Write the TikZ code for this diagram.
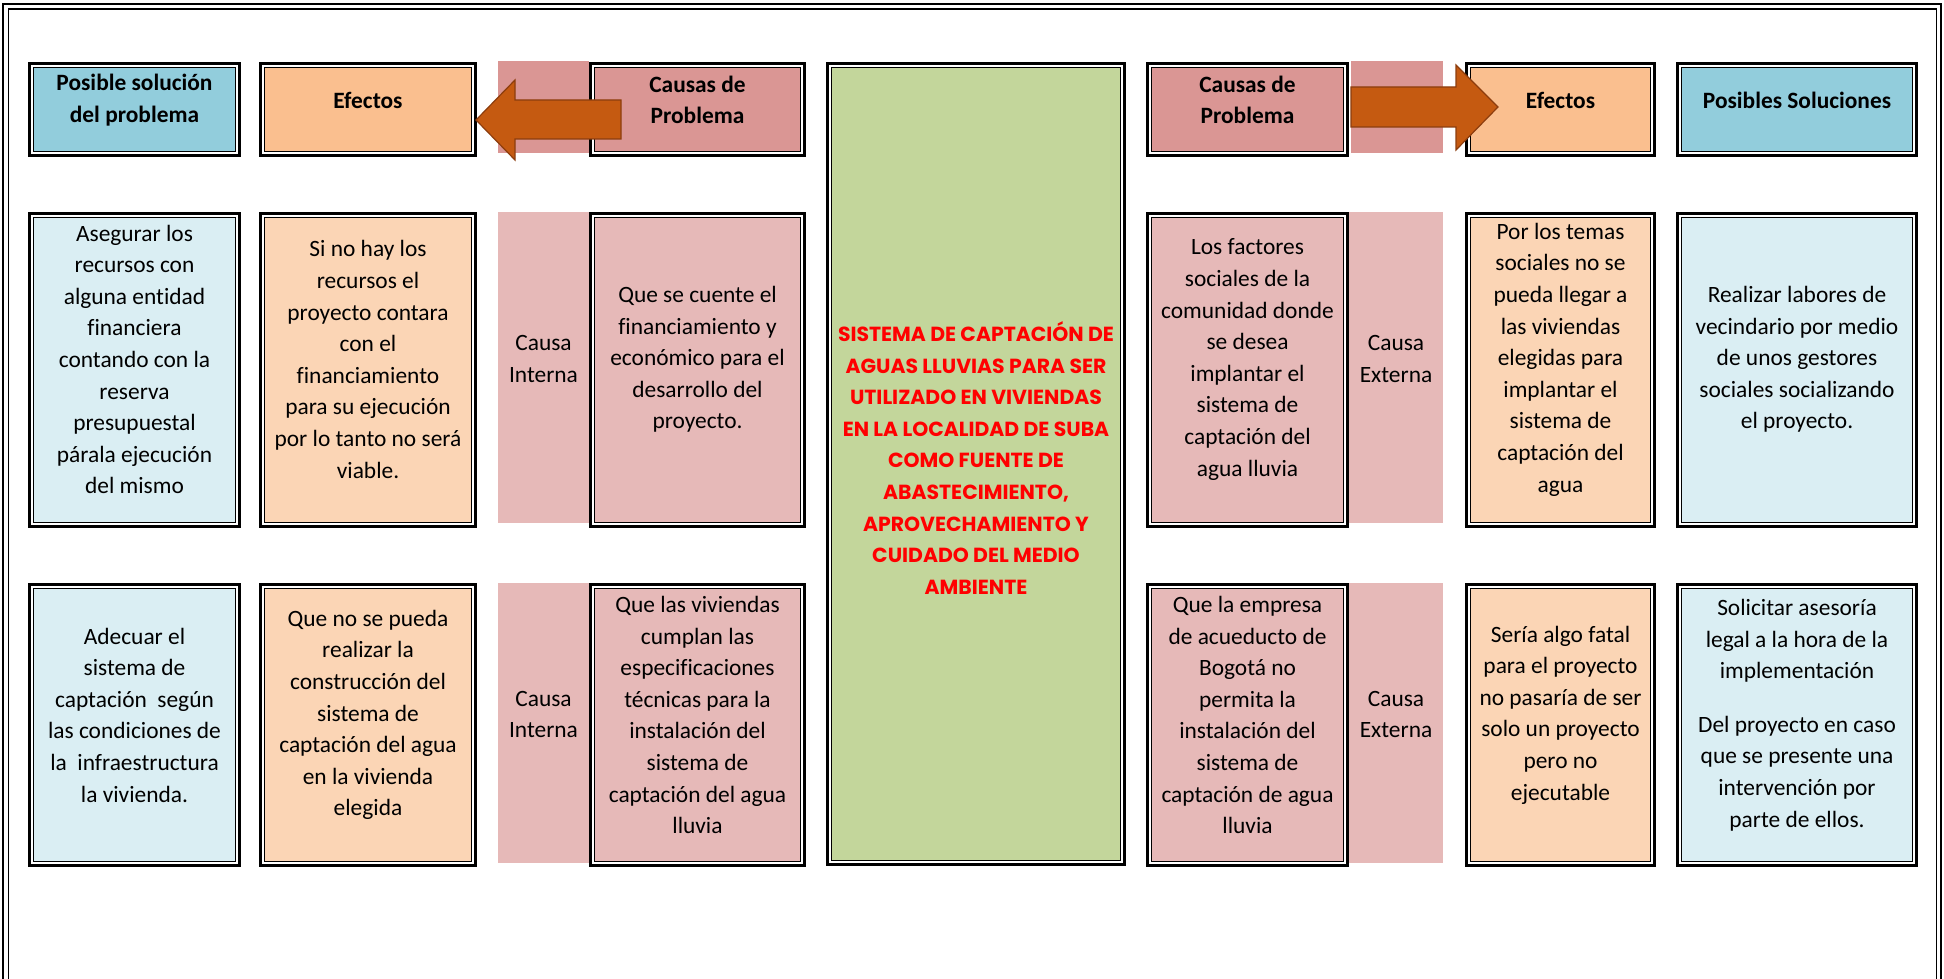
\documentclass[tikz,border=0pt]{standalone}
\usepackage{fontspec}
\setmainfont{Carlito}[Ligatures=NoCommon]
\newfontfamily\gothic{Poppins}
\definecolor{hblue}{HTML}{92CDDC}
\definecolor{bblue}{HTML}{DAEEF3}
\definecolor{horange}{HTML}{FABF8F}
\definecolor{borange}{HTML}{FBD5B5}
\definecolor{hpink}{HTML}{DA9694}
\definecolor{bpink}{HTML}{E6B9B8}
\definecolor{cgreen}{HTML}{C3D69B}
\definecolor{arrfill}{HTML}{C55A11}
\definecolor{arrline}{HTML}{8C3D0E}
\newcommand\dbox[6]{%
  \draw[outerln] (#2+1.35,#3+1.35) rectangle (#4-1.35,#5-1.35);
  \node[innerbox, fill=#6, minimum width={(#4-#2-11.1)*0.5pt}, minimum height={(#5-#3-11.1)*0.5pt}] (#1) at ({(#2+#4)/2},{(#3+#5)/2}) {};
}
\newcommand\strip[6]{%
  \node[inner sep=0pt, fill=#6, minimum width={(#4-#2)*0.5pt}, minimum height={(#5-#3)*0.5pt}] (#1) at ({(#2+#4)/2},{(#3+#5)/2}) {};
}
\begin{document}
\begin{tikzpicture}[x=0.5pt,y=-0.5pt,
  outerln/.style={line width=1.35pt},
  innerbox/.style={draw, line width=0.85pt, inner sep=0pt},
  txt/.style={align=center, font=\fontsize{11.7}{15.8}\selectfont, inner sep=0pt},
  hdr/.style={align=center, font=\fontsize{11.7}{15.8}\selectfont\bfseries, inner sep=0pt},
  ctr/.style={align=center, text=red, font=\gothic\bfseries\fontsize{10.2}{15.8}\selectfont, inner sep=0pt},
  blockarrow/.style={fill=arrfill, draw=arrline, line width=0.6pt, line join=miter}]
\useasboundingbox (0,0) rectangle (1944,979);
% frame
\draw[line width=0.9pt] (3,979) -- (3,4) -- (1941,4) -- (1941,979);
\draw[line width=0.8pt] (8.5,979) -- (8.5,9) -- (1936.5,9) -- (1936.5,979);

% header row
\dbox{h1}{28}{62}{241}{157}{hblue}
\dbox{h2}{259}{62}{477}{157}{horange}
\strip{hpL}{498}{61}{589}{153}{hpink}
\dbox{h3}{589}{62}{806}{157}{hpink}
\dbox{c}{826}{62}{1126}{866}{cgreen}
\dbox{h4}{1146}{62}{1349}{157}{hpink}
\strip{hpR}{1351}{61}{1443}{153}{hpink}
\dbox{h5}{1465}{62}{1656}{157}{horange}
\dbox{h6}{1676}{62}{1918}{157}{hblue}

\node[hdr] (h1t) at ([yshift=4.75pt]h1.center) {Posible solución\\del problema};
\node[hdr] (h2t) at ([yshift=4.75pt]h2.center) {Efectos};
\node[hdr] (h3t) at ([yshift=4.75pt]h3.center) {Causas de\\Problema};
\node[hdr] (h4t) at ([yshift=4.75pt]h4.center) {Causas de\\Problema};
\node[hdr] (h5t) at ([yshift=4.75pt]h5.center) {Efectos};
\node[hdr] (h6t) at ([yshift=4.75pt]h6.center) {Posibles Soluciones};

% block arrows
\draw[blockarrow] (476,120) -- (515,80) -- (515,100) -- (621,100) -- (621,139) -- (515,139) -- (515,160) -- cycle;
\draw[blockarrow] (1351,87) -- (1456,87) -- (1456,65) -- (1498,107) -- (1456,150) -- (1456,127) -- (1351,127) -- cycle;

% row 1
\dbox{a1}{28}{212}{241}{528}{bblue}
\dbox{a2}{259}{212}{477}{528}{borange}
\strip{sL1}{498}{212}{589}{523}{bpink}
\dbox{a3}{589}{212}{806}{528}{bpink}
\dbox{a4}{1146}{212}{1349}{528}{bpink}
\strip{sR1}{1349}{212}{1443}{523}{bpink}
\dbox{a5}{1465}{212}{1656}{528}{borange}
\dbox{a6}{1676}{212}{1918}{528}{bblue}

\node[txt] (a1t) at ([yshift=5.25pt]a1.center) {Asegurar los\\recursos con\\alguna entidad\\financiera\\contando con la\\reserva\\presupuestal\\párala ejecución\\del mismo};
\node[txt] (a2t) at ([yshift=5.25pt]a2.center) {Si no hay los\\recursos el\\proyecto contara\\con el\\financiamiento\\para su ejecución\\por lo tanto no será\\viable.};
\node[txt] (sL1t) at ([yshift=4.25pt]sL1.center) {Causa\\Interna};
\node[txt] (a3t) at ([yshift=5.25pt]a3.center) {Que se cuente el\\financiamiento y\\económico para el\\desarrollo del\\proyecto.};
\node[txt] (a4t) at ([yshift=5.25pt]a4.center) {Los factores\\sociales de la\\comunidad donde\\se desea\\implantar el\\sistema de\\captación del\\agua lluvia};
\node[txt] (sR1t) at ([yshift=4.25pt]sR1.center) {Causa\\Externa};
\node[txt] (a5t) at ([yshift=5.25pt]a5.center) {Por los temas\\sociales no se\\pueda llegar a\\las viviendas\\elegidas para\\implantar el\\sistema de\\captación del\\agua};
\node[txt] (a6t) at ([yshift=5.25pt]a6.center) {Realizar labores de\\vecindario por medio\\de unos gestores\\sociales socializando\\el proyecto.};

% row 2
\dbox{b1}{28}{583}{241}{867}{bblue}
\dbox{b2}{259}{583}{477}{867}{borange}
\strip{sL2}{498}{583}{589}{863}{bpink}
\dbox{b3}{589}{583}{806}{867}{bpink}
\dbox{b4}{1146}{583}{1349}{867}{bpink}
\strip{sR2}{1349}{583}{1443}{863}{bpink}
\dbox{b5}{1465}{583}{1656}{867}{borange}
\dbox{b6}{1676}{583}{1918}{867}{bblue}

\node[txt] (b1t) at ([yshift=5pt]b1.center) {Adecuar el\\sistema de\\captación\ \ según\\las condiciones de\\la\ \ infraestructura\\la vivienda.};
\node[txt] (b2t) at ([yshift=5pt]b2.center) {Que no se pueda\\realizar la\\construcción del\\sistema de\\captación del agua\\en la vivienda\\elegida};
\node[txt] (sL2t) at ([yshift=4.25pt]sL2.center) {Causa\\Interna};
\node[txt] (b3t) at ([yshift=5pt]b3.center) {Que las viviendas\\cumplan las\\especificaciones\\técnicas para la\\instalación del\\sistema de\\captación del agua\\lluvia};
\node[txt] (b4t) at ([yshift=5pt]b4.center) {Que la empresa\\de acueducto de\\Bogotá no\\permita la\\instalación del\\sistema de\\captación de agua\\lluvia};
\node[txt] (sR2t) at ([yshift=4.25pt]sR2.center) {Causa\\Externa};
\node[txt] (b5t) at ([yshift=5pt]b5.center) {Sería algo fatal\\para el proyecto\\no pasaría de ser\\solo un proyecto\\pero no\\ejecutable};
\node[txt] (b6t) at ([yshift=5pt]b6.center) {Solicitar asesoría\\legal a la hora de la\\implementación\\[11pt]Del proyecto en caso\\que se presente una\\intervención por\\parte de ellos.};

% centre
\node[ctr] (ct) at ([yshift=3pt]c.center) {SISTEMA DE CAPTACIÓN DE\\AGUAS LLUVIAS PARA SER\\UTILIZADO EN VIVIENDAS\\EN LA LOCALIDAD DE SUBA\\COMO FUENTE DE\\ABASTECIMIENTO,\\APROVECHAMIENTO Y\\CUIDADO DEL MEDIO\\AMBIENTE};
\end{tikzpicture}
\end{document}
